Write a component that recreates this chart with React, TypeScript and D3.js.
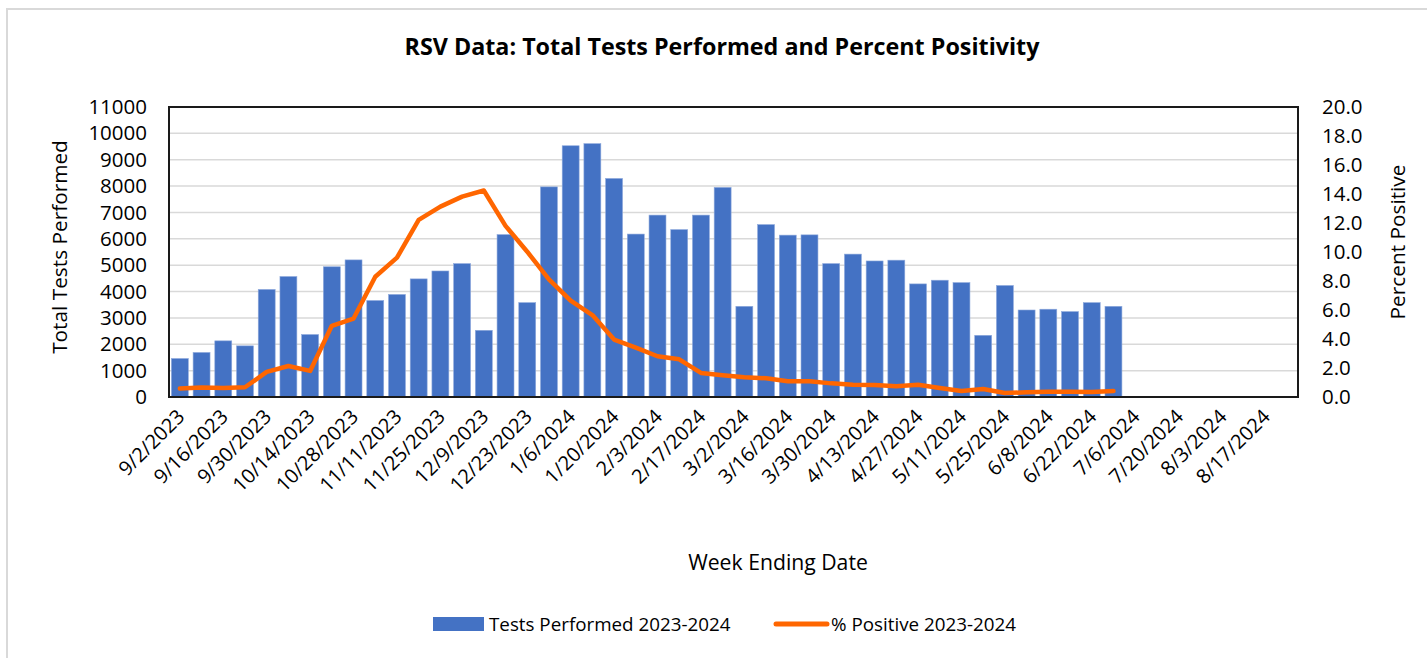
import React, { useEffect, useRef } from "react";
import * as d3 from "d3";

// week ending dates (52 weeks)
const weeks = [
  "9/2/2023", "9/9/2023", "9/16/2023", "9/23/2023", "9/30/2023", "10/7/2023",
  "10/14/2023", "10/21/2023", "10/28/2023", "11/4/2023", "11/11/2023", "11/18/2023",
  "11/25/2023", "12/2/2023", "12/9/2023", "12/16/2023", "12/23/2023", "12/30/2023",
  "1/6/2024", "1/13/2024", "1/20/2024", "1/27/2024", "2/3/2024", "2/10/2024",
  "2/17/2024", "2/24/2024", "3/2/2024", "3/9/2024", "3/16/2024", "3/23/2024",
  "3/30/2024", "4/6/2024", "4/13/2024", "4/20/2024", "4/27/2024", "5/4/2024",
  "5/11/2024", "5/18/2024", "5/25/2024", "6/1/2024", "6/8/2024", "6/15/2024",
  "6/22/2024", "6/29/2024", "7/6/2024", "7/13/2024", "7/20/2024", "7/27/2024",
  "8/3/2024", "8/10/2024", "8/17/2024", "8/24/2024",
];

const testsPerformed = [
  1460, 1690, 2130, 1940, 4080, 4570, 2370, 4940, 5200, 3660, 3890, 4480,
  4780, 5060, 2530, 6160, 3580, 7970, 9530, 9610, 8290, 6180, 6900, 6350,
  6900, 7950, 3440, 6540, 6140, 6150, 5060, 5420, 5160, 5190, 4290, 4430,
  4340, 2340, 4230, 3300, 3330, 3240, 3580, 3440,
];

const pctPositive = [
  0.58, 0.65, 0.62, 0.67, 1.73, 2.14, 1.8, 4.91, 5.41, 8.29, 9.61, 12.21,
  13.13, 13.82, 14.24, 11.8, 10.02, 8.11, 6.64, 5.65, 3.96, 3.41, 2.81, 2.6,
  1.66, 1.5, 1.36, 1.29, 1.08, 1.08, 0.94, 0.85, 0.83, 0.74, 0.85, 0.62,
  0.41, 0.55, 0.28, 0.32, 0.37, 0.37, 0.35, 0.41,
];

const leftTicks = d3.range(0, 11001, 1000);
const rightTicks = d3.range(0, 20.1, 2);

const FONT = "'Open Sans', sans-serif";

export default function App() {
  const svgRef = useRef<SVGSVGElement | null>(null);

  useEffect(() => {
    if (!svgRef.current) return;
    const svg = d3.select(svgRef.current);
    svg.selectAll("*").remove();

    const width = 1427;
    const height = 658;
    const plot = { left: 169, right: 1298, top: 107, bottom: 397 };

    svg.attr("width", width).attr("height", height);

    // outer chart frame
    svg
      .append("rect")
      .attr("x", 7)
      .attr("y", 9)
      .attr("width", width + 20)
      .attr("height", height + 20)
      .attr("fill", "#fff")
      .attr("stroke", "#d9d9d9")
      .attr("stroke-width", 2);

    const x = d3
      .scaleBand<string>()
      .domain(weeks)
      .range([plot.left, plot.right])
      .paddingInner(0.22)
      .paddingOuter(0.11);

    const yLeft = d3.scaleLinear().domain([0, 11000]).range([plot.bottom, plot.top]);
    const yRight = d3.scaleLinear().domain([0, 20]).range([plot.bottom, plot.top]);

    // gridlines
    svg
      .append("g")
      .selectAll("line")
      .data(leftTicks.slice(1))
      .enter()
      .append("line")
      .attr("x1", plot.left)
      .attr("x2", plot.right)
      .attr("y1", (d) => yLeft(d))
      .attr("y2", (d) => yLeft(d))
      .attr("stroke", "#d9d9d9")
      .attr("stroke-width", 1.5);

    // bars
    svg
      .append("g")
      .selectAll("rect")
      .data(testsPerformed)
      .enter()
      .append("rect")
      .attr("x", (_, i) => x(weeks[i]) as number)
      .attr("y", (d) => yLeft(d))
      .attr("width", x.bandwidth())
      .attr("height", (d) => plot.bottom - yLeft(d))
      .attr("fill", "#4472c4")
      .attr("stroke", "#8faadc")
      .attr("stroke-width", 0.6);

    // percent positive line
    const line = d3
      .line<number>()
      .x((_, i) => (x(weeks[i]) as number) + x.bandwidth() / 2)
      .y((d) => yRight(d));

    svg
      .append("path")
      .datum(pctPositive)
      .attr("d", line)
      .attr("fill", "none")
      .attr("stroke", "#ff6600")
      .attr("stroke-width", 4.5)
      .attr("stroke-linejoin", "round")
      .attr("stroke-linecap", "round");

    // plot border
    svg
      .append("rect")
      .attr("x", plot.left)
      .attr("y", plot.top)
      .attr("width", plot.right - plot.left)
      .attr("height", plot.bottom - plot.top)
      .attr("fill", "none")
      .attr("stroke", "#1a1a1a")
      .attr("stroke-width", 2);

    // left axis
    const leftAxis = svg
      .append("g")
      .attr("transform", `translate(${plot.left},0)`)
      .call(
        d3
          .axisLeft(yLeft)
          .tickValues(leftTicks)
          .tickSize(0)
          .tickPadding(22)
          .tickFormat(d3.format("d"))
      );
    leftAxis.select(".domain").remove();
    leftAxis
      .selectAll("text")
      .attr("font-family", FONT)
      .attr("font-size", 20.5)
      .attr("fill", "#000");

    // right axis
    const rightAxis = svg
      .append("g")
      .attr("transform", `translate(${plot.right},0)`)
      .call(
        d3
          .axisRight(yRight)
          .tickValues(rightTicks)
          .tickSize(0)
          .tickPadding(24)
          .tickFormat(d3.format(".1f"))
      );
    rightAxis.select(".domain").remove();
    rightAxis
      .selectAll("text")
      .attr("font-family", FONT)
      .attr("font-size", 20.5)
      .attr("fill", "#000");

    // x axis labels (every other week)
    const xAxis = svg
      .append("g")
      .attr("transform", `translate(0,${plot.bottom})`)
      .call(
        d3
          .axisBottom(x)
          .tickValues(weeks.filter((_, i) => i % 2 === 0))
          .tickSize(0)
          .tickPadding(0)
      );
    xAxis.select(".domain").remove();
    xAxis
      .selectAll("text")
      .attr("font-family", FONT)
      .attr("font-size", 20)
      .attr("fill", "#000")
      .attr("text-anchor", "end")
      .attr("dy", null)
      .attr("y", 0)
      .attr("transform", "translate(6,21) rotate(-45)");

    // titles
    svg
      .append("text")
      .attr("x", 722)
      .attr("y", 55)
      .attr("text-anchor", "middle")
      .attr("font-family", FONT)
      .attr("font-weight", "bold")
      .attr("font-size", 23.3)
      .text("RSV Data: Total Tests Performed and Percent Positivity");

    svg
      .append("text")
      .attr("transform", "translate(67,247) rotate(-90)")
      .attr("text-anchor", "middle")
      .attr("font-family", FONT)
      .attr("font-size", 20.8)
      .text("Total Tests Performed");

    svg
      .append("text")
      .attr("transform", "translate(1405,242) rotate(-90)")
      .attr("text-anchor", "middle")
      .attr("font-family", FONT)
      .attr("font-size", 20.8)
      .text("Percent Positive");

    svg
      .append("text")
      .attr("x", 778)
      .attr("y", 570)
      .attr("text-anchor", "middle")
      .attr("font-family", FONT)
      .attr("font-size", 21.2)
      .text("Week Ending Date");

    // legend
    const legend = svg.append("g").attr("font-family", FONT).attr("font-size", 18.8);
    legend
      .append("rect")
      .attr("x", 433)
      .attr("y", 617)
      .attr("width", 51)
      .attr("height", 14)
      .attr("fill", "#4472c4");
    legend.append("text").attr("x", 489).attr("y", 631).text("Tests Performed 2023-2024");
    legend
      .append("line")
      .attr("x1", 776)
      .attr("x2", 827)
      .attr("y1", 624)
      .attr("y2", 624)
      .attr("stroke", "#ff6600")
      .attr("stroke-width", 5)
      .attr("stroke-linecap", "round");
    legend.append("text").attr("x", 831).attr("y", 631).text("% Positive 2023-2024");
  }, []);

  return (
    <svg
      ref={svgRef}
      style={{ position: "absolute", left: 0, top: 0, display: "block" }}
    />
  );
}
